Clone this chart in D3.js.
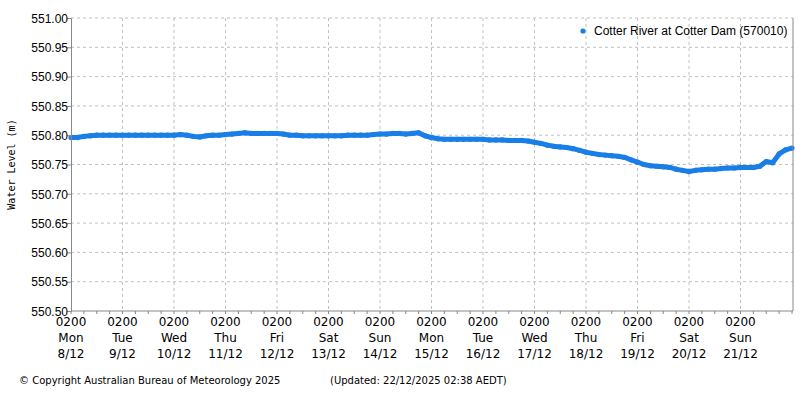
<!DOCTYPE html>
<html><head><meta charset="utf-8">
<script src="https://cdn.jsdelivr.net/npm/d3@7"></script>
<style>
body{margin:0;background:#fff;font-family:"DejaVu Sans",sans-serif}
.axis text{font-size:12px;fill:#000}
</style></head><body>
<div id="chart"></div>
<script>
// 3-hourly readings (m) starting Mon 8/12 02:00, one row per day
const levels = [
  550.796, 550.796, 550.798, 550.799, 550.800, 550.800, 550.800, 550.800,
  550.800, 550.800, 550.800, 550.800, 550.800, 550.800, 550.800, 550.800,
  550.800, 550.801, 550.800, 550.798, 550.797, 550.799, 550.800, 550.800,
  550.801, 550.802, 550.803, 550.804, 550.803, 550.803, 550.803, 550.803,
  550.803, 550.802, 550.800, 550.800, 550.799, 550.799, 550.799, 550.799,
  550.799, 550.799, 550.799, 550.800, 550.800, 550.800, 550.800, 550.801,
  550.802, 550.802, 550.803, 550.803, 550.802, 550.803, 550.804, 550.799,
  550.796, 550.794, 550.793, 550.793, 550.793, 550.793, 550.793, 550.793,
  550.793, 550.792, 550.792, 550.792, 550.791, 550.791, 550.791, 550.790,
  550.788, 550.786, 550.783, 550.781, 550.780, 550.779, 550.777, 550.774,
  550.771, 550.769, 550.767, 550.766, 550.765, 550.764, 550.762, 550.758,
  550.754, 550.750, 550.748, 550.747, 550.746, 550.745, 550.742, 550.740,
  550.738, 550.740, 550.741, 550.742, 550.742, 550.743, 550.744, 550.744,
  550.745, 550.745, 550.745, 550.747, 550.755, 550.753, 550.768, 550.775,
  550.778
]
const days = ['Mon', 'Tue', 'Wed', 'Thu', 'Fri', 'Sat', 'Sun', 'Mon', 'Tue', 'Wed', 'Thu', 'Fri', 'Sat', 'Sun']
const dates = ['8/12', '9/12', '10/12', '11/12', '12/12', '13/12', '14/12', '15/12', '16/12', '17/12', '18/12', '19/12', '20/12', '21/12']
const yTicks = [550.5, 550.55, 550.6, 550.65, 550.7, 550.75, 550.8, 550.85, 550.9, 550.95, 551.0]

const margin = { top: 18, right: 7, bottom: 89, left: 71 }
const width = 800 - margin.left - margin.right
const height = 400 - margin.top - margin.bottom

const start = new Date(2025, 11, 8, 2)
const hour = 3600 * 1000
const data = levels.map((v, i) => ({ t: new Date(+start + i * 3 * hour), v }))

const root = d3.select('#chart').append('svg').attr('width', 800).attr('height', 400)
const svg = root.append('g').attr('transform', `translate(${margin.left},${margin.top})`)

const x = d3.scaleTime().domain([start, new Date(+start + 14 * 24 * hour)]).range([0, width - 1])
const y = d3.scaleLinear().domain([550.5, 551.0]).range([height, 0])

// grid
const dayTicks = d3.range(14).map(i => new Date(+start + i * 24 * hour))
svg.selectAll('.vg').data(dayTicks.slice(1)).enter().append('line')
  .attr('x1', d => x(d)).attr('x2', d => x(d)).attr('y1', 0).attr('y2', height)
  .attr('stroke', '#c0c0c0').attr('stroke-dasharray', '3,3')
svg.selectAll('.hg').data(yTicks.slice(1)).enter().append('line')
  .attr('x1', 0).attr('x2', width).attr('y1', d => y(d)).attr('y2', d => y(d))
  .attr('stroke', '#c0c0c0').attr('stroke-dasharray', '3,3')

// data
svg.append('path').datum(data)
  .attr('d', d3.line().x(d => x(d.t)).y(d => y(d.v)))
  .attr('fill', 'none').attr('stroke', '#1a7ee8').attr('stroke-width', 5).attr('stroke-linejoin', 'round')
svg.selectAll('circle').data(data).enter().append('circle')
  .attr('cx', d => x(d.t)).attr('cy', d => y(d.v)).attr('r', 2.6).attr('fill', '#1a7ee8')

// axes
const yAxis = d3.axisLeft(y).tickValues(yTicks).tickFormat(d3.format('.2f')).tickSize(4)
svg.append('g').attr('class', 'axis').call(yAxis)
  .call(g => g.select('.domain').attr('stroke', '#888'))
  .call(g => g.selectAll('.tick line').attr('stroke', '#888'))
  .call(g => g.selectAll('text').attr('x', -3).attr('dy', '0.35em'))

const minor = d3.range(0, 14 * 4 + 1).map(i => new Date(+start + i * 6 * hour))
const xg = svg.append('g').attr('class', 'axis').attr('transform', `translate(0,${height})`)
xg.append('line').attr('x1', 0).attr('x2', width).attr('stroke', '#888')
xg.selectAll('.mt').data(minor).enter().append('line')
  .attr('x1', d => x(d)).attr('x2', d => x(d)).attr('y1', 0).attr('y2', 3).attr('stroke', '#888')
const lab = xg.selectAll('.lab').data(dayTicks).enter().append('text')
  .attr('x', d => x(d)).attr('text-anchor', 'middle')
lab.append('tspan').attr('x', d => x(d)).attr('y', 15).text('0200')
lab.append('tspan').attr('x', d => x(d)).attr('y', 31).text((d, i) => days[i])
lab.append('tspan').attr('x', d => x(d)).attr('y', 47).text((d, i) => dates[i])

// right border
svg.append('line').attr('x1', width).attr('x2', width).attr('y1', 0).attr('y2', height).attr('stroke', '#888')

svg.append('text').attr('transform', `translate(-56,${height / 2}) rotate(-90)`)
  .attr('text-anchor', 'middle').attr('font-family', 'DejaVu Sans Mono').attr('font-size', 10)
  .text('Water Level (m)')

// legend
root.append('circle').attr('cx', 583).attr('cy', 31).attr('r', 2.6).attr('fill', '#1a7ee8')
root.append('text').attr('x', 594).attr('y', 35).attr('font-family', 'Liberation Sans')
  .attr('font-size', 12).text('Cotter River at Cotter Dam (570010)')

root.append('text').attr('x', 19).attr('y', 384).attr('font-size', 10).text('© Copyright Australian Bureau of Meteorology 2025')
root.append('text').attr('x', 330).attr('y', 384).attr('font-size', 10).text('(Updated: 22/12/2025 02:38 AEDT)')
</script></body></html>
